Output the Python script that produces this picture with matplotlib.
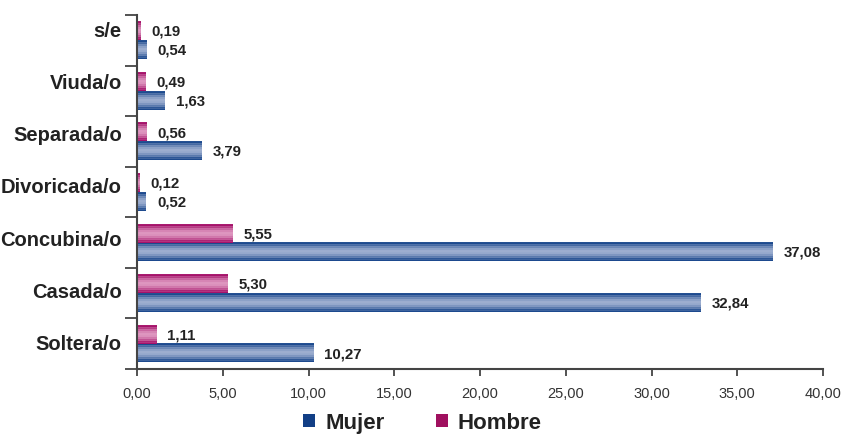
import numpy as np
import matplotlib
matplotlib.use("Agg")
import matplotlib.pyplot as plt
from matplotlib.patches import Patch
from matplotlib.colors import to_rgb

plt.rcParams["font.family"] = ["Liberation Sans", "DejaVu Sans"]

categories = ["Soltera/o", "Casada/o", "Concubina/o", "Divoricada/o",
              "Separada/o", "Viuda/o", "s/e"]
mujer = [10.27, 32.84, 37.08, 0.52, 3.79, 1.63, 0.54]
hombre = [1.11, 5.30, 5.55, 0.12, 0.56, 0.49, 0.19]
xticks = [0, 5, 10, 15, 20, 25, 30, 35, 40]

BLUE = "#123f86"
MAGENTA = "#a0105f"


def fmt(v):
    return f"{v:.2f}".replace(".", ",")


def stripes(dark, light, n=18):
    # horizontal banding: dark edges, pale centre, alternating thin lines
    dark, light = np.array(to_rgb(dark)), np.array(to_rgb(light))
    rows = []
    for i in range(n):
        t = abs(2 * i / (n - 1) - 1)
        k = 0.2 + 0.8 * t ** 1.6
        k += 0.2 if i % 2 else -0.05
        k = min(max(k, 0), 1)
        rows.append(light + (dark - light) * k)
    return np.array(rows)[:, None, :]


def shade(ax, bars, grad):
    for b in bars:
        x0, y0 = b.get_x(), b.get_y()
        ax.imshow(grad, extent=[x0, x0 + b.get_width(), y0, y0 + b.get_height()],
                  aspect="auto", interpolation="bilinear", zorder=2)
        b.set_facecolor("none")


fig = plt.figure(figsize=(8.45, 4.35), dpi=100)
ax = fig.add_axes([137 / 845, 1 - 370 / 435, 686 / 845, 354 / 435])

y = np.arange(len(categories))
h = 0.37
bm = ax.barh(y - h / 2, mujer, height=h, color=BLUE, edgecolor="none", zorder=2)
bh = ax.barh(y + h / 2, hombre, height=h, color=MAGENTA, edgecolor="none", zorder=2)
shade(ax, bm, stripes("#1d4a8e", "#d0d6ea"))
shade(ax, bh, stripes("#a5136a", "#f5cbe2"))

for b, v in zip(bm, mujer):
    ax.annotate(fmt(v), (b.get_width(), b.get_y() + b.get_height() / 2),
                xytext=(8, 0), textcoords="offset points", va="center",
                fontsize=10.8, fontweight="bold", color="#222222")
for b, v in zip(bh, hombre):
    ax.annotate(fmt(v), (b.get_width(), b.get_y() + b.get_height() / 2),
                xytext=(8, 0), textcoords="offset points", va="center",
                fontsize=10.8, fontweight="bold", color="#222222")

ax.set_xlim(0, 40)
ax.set_ylim(-0.5, len(categories) - 0.5)
ax.set_xticks(xticks)
ax.set_xticklabels([fmt(v) for v in xticks], fontsize=10.5, color="#333333")

# ticks on group boundaries; names sit a little above each group's centre
ax.set_yticks(np.arange(len(categories) + 1) - 0.5)
ax.set_yticklabels([])
ax.set_yticks(y * 1.03 + 0.05, minor=True)
ax.set_yticklabels(categories, minor=True, fontsize=14.5, fontweight="bold",
                   color="#222222")
ax.tick_params(axis="y", which="major", length=8.5, width=1.3, color="#444444")
ax.tick_params(axis="y", which="minor", length=0, pad=11)
ax.tick_params(axis="x", length=5, width=1.3, color="#444444", pad=7)

for s in ("top", "right"):
    ax.spines[s].set_visible(False)
for s in ("left", "bottom"):
    ax.spines[s].set_linewidth(1.5)
    ax.spines[s].set_color("#444444")

handles = [Patch(facecolor=BLUE, label="Mujer"),
           Patch(facecolor=MAGENTA, label="Hombre")]
leg = fig.legend(handles=handles, loc="center", bbox_to_anchor=(0.5, 1 - 424 / 435),
                 ncol=2, frameon=False, handlelength=0.55, handleheight=0.55,
                 columnspacing=2.3, handletextpad=0.45,
                 prop={"size": 16, "weight": "bold"})
for t in leg.get_texts():
    t.set_color("#222222")

fig.savefig("out.png", dpi=100)
